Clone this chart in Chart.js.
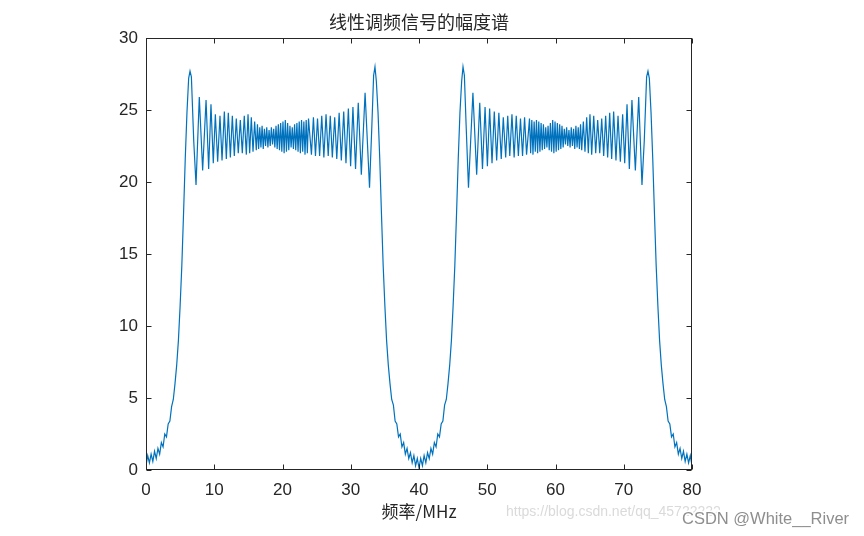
<!DOCTYPE html>
<html>
<head>
<meta charset="utf-8">
<script src="https://cdn.jsdelivr.net/npm/chart.js@4.4.1/dist/chart.umd.min.js"></script>
<style>
  html, body { margin: 0; padding: 0; background: #ffffff; }
  #wrap { width: 864px; height: 536px; }
</style>
</head>
<body>
<div id="wrap"><canvas id="spec" width="864" height="536"></canvas></div>
<script>
// axis ticks
const xTicks = [0, 10, 20, 30, 40, 50, 60, 70, 80];
const yTicks = [0, 5, 10, 15, 20, 25, 30];

// amplitude spectrum, 0..40 MHz (first band)
const freqBand1 = [
  0, 0.25, 0.5, 0.75, 1.0, 1.25, 1.5, 1.75, 2.0, 2.25, 2.5, 2.75, 3.0, 3.25, 3.5, 3.75,
  4.0, 4.25, 4.5, 4.75, 5.0, 5.25, 5.5, 5.75, 6.0, 6.25, 6.45, 6.65, 7.0, 7.33,
  7.81, 8.3, 8.8, 9.18, 9.52, 9.86, 10.16, 10.5, 10.84, 11.14, 11.48, 11.77, 12.06, 12.36,
  12.65, 12.94, 13.23, 13.52, 13.82, 14.11, 14.4, 14.7, 14.95, 15.19, 15.43, 15.68, 15.92,
  16.16, 16.33, 16.5, 16.67, 16.84, 17.01, 17.18, 17.35, 17.52, 17.69, 17.86, 18.03, 18.2, 18.37,
  18.54, 18.71, 18.88, 19.05, 19.22, 19.39, 19.56, 19.73, 19.9,
  20.07, 20.24, 20.41, 20.58, 20.75, 20.92, 21.09, 21.26, 21.43, 21.6, 21.77, 21.94, 22.11, 22.28,
  22.45, 22.62, 22.79, 22.96, 23.13, 23.3, 23.47, 23.64, 23.81,
  24.24, 24.53, 24.83, 25.13, 25.44, 25.75, 26.06, 26.38, 26.7, 27.0, 27.3,
  27.65, 27.95, 28.3, 28.62, 28.97, 29.3, 29.65, 29.98, 30.32, 30.7, 31.1, 31.55, 32.1, 32.75,
  33.1, 33.35, 33.55, 33.75, 34.0, 34.25, 34.5, 34.75, 35.0, 35.25, 35.5, 35.75, 36.0, 36.25,
  36.5, 36.75, 37.0, 37.25, 37.5, 37.75, 38.0, 38.25, 38.5, 38.75, 39.0, 39.25, 39.5, 39.75, 40.0
];
const ampBand1 = [
  0.3, 1.0, 0.5, 1.1, 0.6, 1.3, 0.8, 1.5, 1.1, 1.9, 1.6, 2.5, 2.3, 3.2, 3.4, 4.4,
  4.9, 6.0, 7.3, 9.0, 11.4, 14.2, 17.8, 21.6, 24.8, 27.2, 27.7, 27.3, 22.8, 19.8,
  25.9, 20.8, 25.7, 20.9, 25.4, 21.3, 24.7, 21.4, 24.6, 21.5, 24.9, 21.6, 24.8, 21.7,
  24.6, 21.8, 24.4, 22.0, 24.3, 22.0, 24.6, 21.9, 24.7, 22.0, 24.5, 22.1, 24.2,
  22.2, 24.0, 22.3, 23.8, 22.4, 23.9, 22.3, 23.7, 22.5, 23.8, 22.4, 23.6, 22.5, 23.8,
  22.6, 23.7, 22.4, 23.9, 22.3, 24.0, 22.2, 24.1, 22.1,
  24.2, 22.0, 24.3, 22.1, 24.1, 22.2, 23.9, 22.4, 23.8, 22.3, 24.0, 22.2, 24.1, 22.1,
  24.2, 22.0, 24.3, 22.1, 24.2, 21.9, 24.3, 22.0, 24.4,
  21.9, 24.5, 21.8, 24.4, 21.8, 24.6, 21.7, 24.7, 21.8, 24.6, 21.7,
  24.5, 21.6, 24.8, 21.5, 24.9, 21.3, 25.1, 21.1, 25.2, 20.9, 25.5, 20.5, 26.2, 19.6,
  24.0, 27.4, 28.0, 27.0, 24.8, 21.6, 17.8, 14.2, 11.4, 9.0, 7.3, 6.0, 4.9, 4.5,
  3.4, 3.2, 2.3, 2.5, 1.6, 1.9, 1.1, 1.5, 0.8, 1.2, 0.5, 1.0, 0.3, 0.8, 0.15
];

// second band, 40..80 MHz
const freqBand2 = [
  40.25, 40.5, 40.75, 41.0, 41.25, 41.5, 41.75, 42.0, 42.25, 42.5, 42.75, 43.0, 43.25, 43.5,
  43.75, 44.0, 44.25, 44.5, 44.75, 45.0, 45.25, 45.5, 45.75, 46.0, 46.25, 46.45, 46.65, 46.9,
  47.25, 47.9, 48.45, 48.9, 49.3, 49.68, 50.02, 50.35, 50.7, 51.03, 51.38, 51.7, 52.05, 52.35,
  52.7, 53.0, 53.3, 53.62, 53.94, 54.25, 54.56, 54.87, 55.17, 55.47, 55.76,
  56.19, 56.36, 56.53, 56.7, 56.87, 57.04, 57.21, 57.38, 57.55, 57.72, 57.89, 58.06, 58.23, 58.4,
  58.57, 58.74, 58.91, 59.08, 59.25, 59.42, 59.59, 59.76, 59.93,
  60.1, 60.27, 60.44, 60.61, 60.78, 60.95, 61.12, 61.29, 61.46, 61.63, 61.8, 61.97, 62.14, 62.31,
  62.48, 62.65, 62.82, 62.99, 63.16, 63.33, 63.5, 63.67, 63.84,
  64.08, 64.32, 64.57, 64.81, 65.05, 65.3, 65.6, 65.89, 66.18, 66.48, 66.77, 67.06, 67.35,
  67.64, 67.94, 68.23, 68.52, 68.86, 69.16, 69.5, 69.84, 70.14, 70.48, 70.82, 71.2, 71.7, 72.19,
  72.67, 73.0, 73.35, 73.55, 73.75, 74.0, 74.25, 74.5, 74.75, 75.0, 75.25, 75.5, 75.75, 76.0,
  76.25, 76.5, 76.75, 77.0, 77.25, 77.5, 77.75, 78.0, 78.25, 78.5, 78.75, 79.0, 79.25, 79.5,
  79.75, 80.0
];
const ampBand2 = [
  0.8, 0.3, 1.0, 0.5, 1.2, 0.8, 1.5, 1.1, 1.9, 1.6, 2.5, 2.3, 3.2, 3.4,
  4.5, 4.9, 6.0, 7.3, 9.0, 11.4, 14.2, 17.8, 21.6, 24.8, 27.0, 28.0, 27.4, 24.0,
  19.6, 26.2, 20.5, 25.5, 20.9, 25.2, 21.1, 25.1, 21.3, 24.9, 21.5, 24.8, 21.6, 24.5,
  21.7, 24.6, 21.8, 24.7, 21.7, 24.6, 21.8, 24.4, 21.8, 24.5, 21.9,
  24.4, 22.0, 24.3, 21.9, 24.2, 22.1, 24.3, 22.0, 24.2, 22.1, 24.1, 22.2, 24.0, 22.3,
  23.8, 22.4, 23.9, 22.2, 24.1, 22.1, 24.3, 22.0, 24.2,
  22.1, 24.1, 22.2, 24.0, 22.3, 23.9, 22.4, 23.7, 22.6, 23.8, 22.5, 23.6, 22.4, 23.8,
  22.5, 23.7, 22.3, 23.9, 22.4, 23.8, 22.3, 24.0, 22.2,
  24.2, 22.1, 24.5, 22.0, 24.7, 21.9, 24.6, 22.0, 24.3, 22.0, 24.4, 21.8, 24.6,
  21.7, 24.8, 21.6, 24.9, 21.5, 24.6, 21.4, 24.7, 21.3, 25.4, 20.9, 25.7, 20.8, 25.9,
  19.8, 22.8, 27.3, 27.7, 27.2, 24.8, 21.6, 17.8, 14.2, 11.4, 9.0, 7.3, 6.0, 4.9,
  4.4, 3.4, 3.2, 2.3, 2.5, 1.6, 1.9, 1.1, 1.5, 0.8, 1.3, 0.6, 1.1, 0.5,
  1.0, 0.3
];

const freqMHz = freqBand1.concat(freqBand2);
const amplitude = ampBand1.concat(ampBand2);
const points = freqMHz.map((f, i) => ({ x: f, y: amplitude[i] }));

const AXIS = '#262626';
const TICK_FONT = { family: "'Liberation Sans', Arial, sans-serif", size: 17 };

// MATLAB style box with inward ticks, title, xlabel and watermark
const matlabFrame = {
  id: 'matlabFrame',
  afterDraw(chart) {
    const ctx = chart.ctx;
    const a = chart.chartArea;
    const xs = chart.scales.x, ys = chart.scales.y;
    ctx.save();
    ctx.strokeStyle = AXIS;
    ctx.lineWidth = 1;
    const L = a.left + 0.5, R = a.right - 0.5, T = a.top + 0.5, B = a.bottom - 0.5;
    ctx.strokeRect(L, T, R - L, B - T);
    ctx.beginPath();
    xTicks.forEach(v => {
      const px = Math.round(xs.getPixelForValue(v)) + 0.5;
      ctx.moveTo(px, B); ctx.lineTo(px, B - 5);
      ctx.moveTo(px, T); ctx.lineTo(px, T + 5);
    });
    yTicks.forEach(v => {
      const py = Math.round(ys.getPixelForValue(v)) + 0.5;
      ctx.moveTo(L, py); ctx.lineTo(L + 5, py);
      ctx.moveTo(R, py); ctx.lineTo(R - 5, py);
    });
    ctx.stroke();

    ctx.textAlign = 'center';
    ctx.textBaseline = 'middle';
    ctx.fillStyle = AXIS;
    ctx.font = "18px 'Noto Sans CJK SC', sans-serif";
    ctx.fillText('线性调频信号的幅度谱', (a.left + a.right) / 2, 22);
    ctx.font = "17px 'Noto Sans CJK SC', 'Liberation Sans', sans-serif";
    ctx.fillText('频率/MHz', (a.left + a.right) / 2, 512);

    // blog watermark
    ctx.textAlign = 'left';
    ctx.font = "14px 'Liberation Sans', sans-serif";
    ctx.fillStyle = '#dadada';
    ctx.fillText('https://blog.csdn.net/qq_45722222', 506, 512);
    ctx.font = "16.5px 'Liberation Sans', sans-serif";
    ctx.lineWidth = 3;
    ctx.strokeStyle = '#ffffff';
    ctx.strokeText('CSDN @White__River', 682, 519);
    ctx.fillStyle = '#8e8e8e';
    ctx.fillText('CSDN @White__River', 682, 519);
    ctx.restore();
  }
};

new Chart(document.getElementById('spec'), {
  type: 'scatter',
  data: {
    datasets: [{
      data: points,
      showLine: true,
      borderColor: '#0072BD',
      borderWidth: 1.2,
      pointRadius: 0,
      tension: 0
    }]
  },
  options: {
    responsive: false,
    animation: false,
    layout: { padding: { left: 0, right: 172, top: 38, bottom: 0 } },
    plugins: {
      legend: { display: false },
      tooltip: { enabled: false }
    },
    scales: {
      x: {
        type: 'linear',
        min: 0,
        max: 80,
        grid: { display: false, drawTicks: false },
        border: { display: false },
        afterBuildTicks: s => { s.ticks = xTicks.map(v => ({ value: v })); },
        afterFit: s => { s.height = 66; },
        ticks: { font: TICK_FONT, color: AXIS, padding: 10, maxRotation: 0 }
      },
      y: {
        type: 'linear',
        min: 0,
        max: 30,
        grid: { display: false, drawTicks: false },
        border: { display: false },
        afterBuildTicks: s => { s.ticks = yTicks.map(v => ({ value: v })); },
        afterFit: s => { s.width = 146; },
        ticks: { font: TICK_FONT, color: AXIS, padding: 8 }
      }
    }
  },
  plugins: [matlabFrame]
});
</script>
</body>
</html>
